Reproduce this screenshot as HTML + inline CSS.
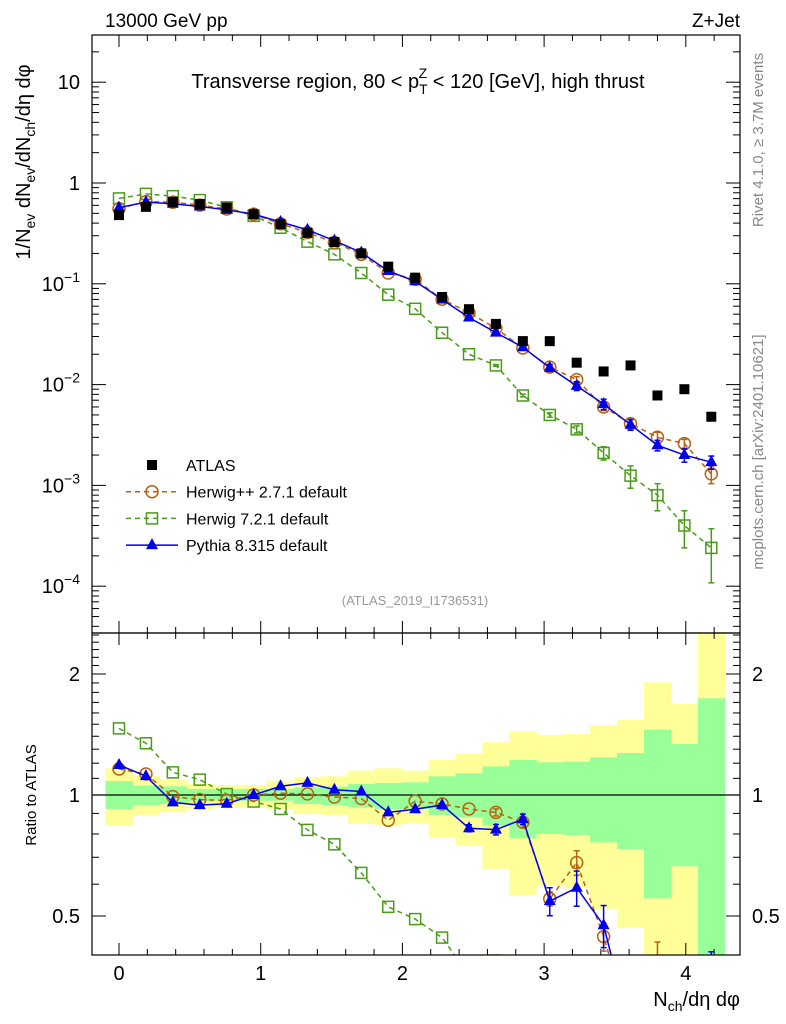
<!DOCTYPE html>
<html><head><meta charset="utf-8"><style>
body{margin:0;background:#fff}
svg{display:block;font-family:"Liberation Sans",sans-serif}
</style></head><body>
<svg id="c" width="786" height="1024" viewBox="0 0 786 1024" xmlns="http://www.w3.org/2000/svg">
<defs>
<clipPath id="cm"><rect x="92" y="35" width="648" height="598"/></clipPath>
<clipPath id="cr"><rect x="92" y="633" width="648" height="322"/></clipPath>
</defs>
<g id="bands" clip-path="url(#cr)"></g>
<g id="grid"></g>
<g id="series"></g>
<rect x="92" y="35" width="648" height="598" fill="none" stroke="#000" stroke-width="1.2"/>
<rect x="92" y="633" width="648" height="322" fill="none" stroke="#000" stroke-width="1.2"/>
<text x="105" y="27" font-size="19">13000 GeV pp</text>
<text x="740" y="27" font-size="19" text-anchor="end">Z+Jet</text>
<text x="418" y="88" font-size="20" text-anchor="middle">Transverse region, 80 &lt; p<tspan font-size="14" dy="6">T</tspan><tspan font-size="14" dx="-9" dy="-16">Z</tspan><tspan dy="10"> &lt; 120 [GeV], high thrust</tspan></text>
<text x="415" y="605" font-size="13" fill="#999" text-anchor="middle">(ATLAS_2019_I1736531)</text>
<text transform="translate(763,140) rotate(-90)" font-size="15" fill="#888" text-anchor="middle">Rivet 4.1.0, ≥ 3.7M events</text>
<text transform="translate(763,452) rotate(-90)" font-size="15" fill="#888" text-anchor="middle">mcplots.cern.ch [arXiv:2401.10621]</text>
<text transform="translate(30,162) rotate(-90)" font-size="20" text-anchor="middle">1/N<tspan font-size="14" dy="5">ev</tspan><tspan dy="-5"> dN</tspan><tspan font-size="14" dy="5">ev</tspan><tspan dy="-5">/dN</tspan><tspan font-size="14" dy="5">ch</tspan><tspan dy="-5">/dη dφ</tspan></text>
<text transform="translate(36,795) rotate(-90)" font-size="15" text-anchor="middle">Ratio to ATLAS</text>
<text x="740" y="1006" font-size="20" text-anchor="end">N<tspan font-size="14" dy="5">ch</tspan><tspan dy="-5">/dη dφ</tspan></text>
<g id="legend"></g>
</svg>
<script>
const xs=[0,0.19,0.38,0.57,0.76,0.95,1.14,1.33,1.52,1.71,1.9,2.09,2.28,2.47,2.66,2.85,3.04,3.23,3.42,3.61,3.8,3.99,4.18];
const atlas=[0.48,0.58,0.65,0.62,0.57,0.49,0.39,0.32,0.26,0.2,0.148,0.115,0.074,0.056,0.04,0.027,0.027,0.0165,0.0135,0.0155,0.0078,0.009,0.0048];
const herwigpp=[0.557,0.654,0.644,0.604,0.552,0.49,0.394,0.322,0.257,0.196,0.128,0.111,0.0703,0.0517,0.0362,0.0231,0.0149,0.0112,0.006,0.0041,0.003,0.0026,0.0013];
const herwig7=[0.703,0.78,0.74,0.677,0.573,0.472,0.36,0.262,0.196,0.128,0.078,0.0565,0.0327,0.02,0.0155,0.0078,0.005,0.0036,0.0021,0.00125,0.0008,0.0004,0.00024];
const pythia=[0.57,0.646,0.623,0.585,0.542,0.49,0.41,0.343,0.268,0.204,0.134,0.106,0.0699,0.0463,0.0328,0.0235,0.0147,0.0097,0.0064,0.004,0.0025,0.002,0.0017];
const herwigppErr=[0,0,0,0,0,0,0,0,0,0,0,0,0,0,0.02,0.03,0.04,0.07,0.08,0.1,0.12,0.1,0.2];
const herwig7Err=[0,0,0,0,0,0,0,0,0,0,0,0,0,0,0.02,0.03,0.05,0.08,0.15,0.25,0.3,0.4,0.55];
const pythiaErr=[0,0,0,0,0,0,0,0,0,0,0,0,0,0.02,0.03,0.03,0.08,0.1,0.12,0.12,0.12,0.15,0.15];
const greenLo=[0.923,0.944,0.95,0.963,0.968,0.968,0.968,0.95,0.944,0.932,0.923,0.923,0.892,0.88,0.839,0.78,0.8,0.795,0.762,0.734,0.553,0.665,0.3];
const greenHi=[1.083,1.055,1.051,1.035,1.035,1.035,1.035,1.045,1.049,1.065,1.071,1.075,1.113,1.132,1.178,1.222,1.206,1.21,1.24,1.272,1.454,1.339,1.74];
const yellowLo=[0.839,0.892,0.906,0.923,0.932,0.932,0.923,0.897,0.892,0.85,0.839,0.85,0.785,0.748,0.655,0.564,0.595,0.586,0.521,0.469,0.3,0.3,0.3];
const yellowHi=[1.165,1.117,1.096,1.065,1.059,1.059,1.085,1.106,1.113,1.15,1.165,1.15,1.222,1.265,1.352,1.44,1.41,1.418,1.488,1.539,1.906,1.684,2.6];
const mainTicks=[10,1,0.1,0.01,0.001,0.0001];
const mainTickLabels=["10","1","10^-1","10^-2","10^-3","10^-4"];
const xTicks=[0,1,2,3,4];
const ratioTicks=[0.5,1,2];

const NS="http://www.w3.org/2000/svg";
const X=v=>119+141.7*v;
const YM=v=>183-100.8*Math.log10(v);
const YR=v=>795-402*Math.log10(v);
const RB=955;
const HB=0.095;
function el(tag,attrs,parent){const e=document.createElementNS(NS,tag);for(const k in attrs)e.setAttribute(k,attrs[k]);parent.appendChild(e);return e;}
const bands=document.getElementById('bands');
const grid=document.getElementById('grid');
const series=document.getElementById('series');
const legend=document.getElementById('legend');

xs.forEach((x,i)=>{
 const y=el('rect',{x:X(x-HB),y:YR(yellowHi[i]),width:X(x+HB)-X(x-HB)+0.5,height:YR(yellowLo[i])-YR(yellowHi[i]),fill:'#ffff99'},bands);
 
 
});
xs.forEach((x,i)=>{
 const g=el('rect',{x:X(x-HB),y:YR(greenHi[i]),width:X(x+HB)-X(x-HB)+0.5,height:YR(greenLo[i])-YR(greenHi[i]),fill:'#99ff99'},bands);
 
 
});
el('line',{x1:92,x2:740,y1:YR(1),y2:YR(1),stroke:'#000','stroke-width':1.2},grid);

for(let k=0;k<=4.35;k+=0.2){
 const v=Math.round(k*10)/10, maj=Math.abs(v-Math.round(v))<1e-6, L=maj?12:6;
 [[633,-1],[35,1],[RB,-1],[633,1]].forEach(([y0,d])=>el('line',{x1:X(v),x2:X(v),y1:y0,y2:y0+d*L,stroke:'#000','stroke-width':1},grid));
}
xTicks.forEach(v=>{const t=el('text',{x:X(v),y:980,'font-size':20,'text-anchor':'middle'},grid);t.textContent=v;
 
 });
for(let e=-5;e<=1;e++)for(let m=1;m<=9;m++){const v=m*Math.pow(10,e),y=YM(v);if(y<35||y>633)continue;const L=m==1?14:7;
 el('line',{x1:92,x2:92+L,y1:y,y2:y,stroke:'#000'},grid);el('line',{x1:740,x2:740-L,y1:y,y2:y,stroke:'#000'},grid);}
mainTicks.forEach((v,i)=>{const s=mainTickLabels[i];const t=el('text',{x:80,y:YM(v)+7,'font-size':20,'text-anchor':'end'},grid);
 if(s.includes('^')){const p=s.split('^');t.textContent=p[0];const sp=el('tspan',{'font-size':14,dy:-9},t);sp.textContent=p[1].replace('-','−');}else t.textContent=s;
 
 });
for(let v=0.4;v<=2.55;v+=0.1){const vv=Math.round(v*10)/10,y=YR(vv);if(y<634||y>RB-2)continue;const maj=[0.5,1,2].includes(vv),L=maj?14:7;
 el('line',{x1:92,x2:92+L,y1:y,y2:y,stroke:'#000'},grid);el('line',{x1:740,x2:740-L,y1:y,y2:y,stroke:'#000'},grid);}
ratioTicks.forEach(v=>{[[80,'end'],[752,'start']].forEach(([x,a])=>{const t=el('text',{x:x,y:YR(v)+7,'font-size':20,'text-anchor':a},grid);t.textContent=v;
 
 });});

function marker(type,x,y,col,g){
 if(type=='sq')return el('rect',{x:x-5,y:y-5,width:10,height:10,fill:'#000'},g);
 if(type=='osq')return el('rect',{x:x-5.5,y:y-5.5,width:11,height:11,fill:'none',stroke:col,'stroke-width':1.5},g);
 if(type=='circ')return el('circle',{cx:x,cy:y,r:6,fill:'none',stroke:col,'stroke-width':1.5},g);
 if(type=='tri')return el('path',{d:`M${x},${y-7}L${x+6},${y+4}L${x-6},${y+4}Z`,fill:col},g);
}
function drawMC(vals,errs,col,dash,type,name){
 const gm=el('g',{'clip-path':'url(#cm)'},series);
 
 
 const gr=el('g',{'clip-path':'url(#cr)'},series);
 
 
 const pm=xs.map((x,i)=>X(x)+','+YM(vals[i])).join(' ');
 el('polyline',{points:pm,fill:'none',stroke:col,'stroke-width':1.5,'stroke-dasharray':dash},gm);
 const rat=vals.map((v,i)=>v/atlas[i]);
 const pr=xs.map((x,i)=>X(x)+','+YR(rat[i])).join(' ');
 el('polyline',{points:pr,fill:'none',stroke:col,'stroke-width':1.5,'stroke-dasharray':dash},gr);
 xs.forEach((x,i)=>{
  if(errs[i]>0){
   [[gm,YM,vals[i]],[gr,YR,rat[i]]].forEach(([g,F,v])=>{const y1=F(v*(1+errs[i])),y2=F(Math.max(v*(1-errs[i]),1e-6));
    el('line',{x1:X(x),x2:X(x),y1:y1,y2:y2,stroke:col,'stroke-width':1.5},g);
    el('line',{x1:X(x)-3,x2:X(x)+3,y1:y1,y2:y1,stroke:col,'stroke-width':1.5},g);
    el('line',{x1:X(x)-3,x2:X(x)+3,y1:y2,y2:y2,stroke:col,'stroke-width':1.5},g);});
  }
  const a=marker(type,X(x),YM(vals[i]),col,gm);
  
  
  const b=marker(type,X(x),YR(rat[i]),col,gr);
  
  
 });
}
drawMC(herwig7,herwig7Err,'#4b9a1a','5,4','osq','herwig7');
drawMC(herwigpp,herwigppErr,'#b8620f','5,4','circ','herwigpp');
drawMC(pythia,pythiaErr,'#0000ee','','tri','pythia');
const ga=el('g',{'clip-path':'url(#cm)'},series);


xs.forEach((x,i)=>{const m=marker('sq',X(x),YM(atlas[i]),'#000',ga);
 
 });

const items=[['ATLAS','sq','#000',null],['Herwig++ 2.7.1 default','circ','#b8620f','5,4'],['Herwig 7.2.1 default','osq','#4b9a1a','5,4'],['Pythia 8.315 default','tri','#0000ee','']];
items.forEach((it,i)=>{const y=465+26.7*i;const g=el('g',{},legend);
 
 
 if(it[3]!==null)el('line',{x1:126,x2:178,y1:y,y2:y,stroke:it[2],'stroke-width':1.5,'stroke-dasharray':it[3]},g);
 marker(it[1],152,y,it[2],g);
 const t=el('text',{x:186,y:y+6,'font-size':16},g);t.textContent=it[0];});
</script>
</body></html>
